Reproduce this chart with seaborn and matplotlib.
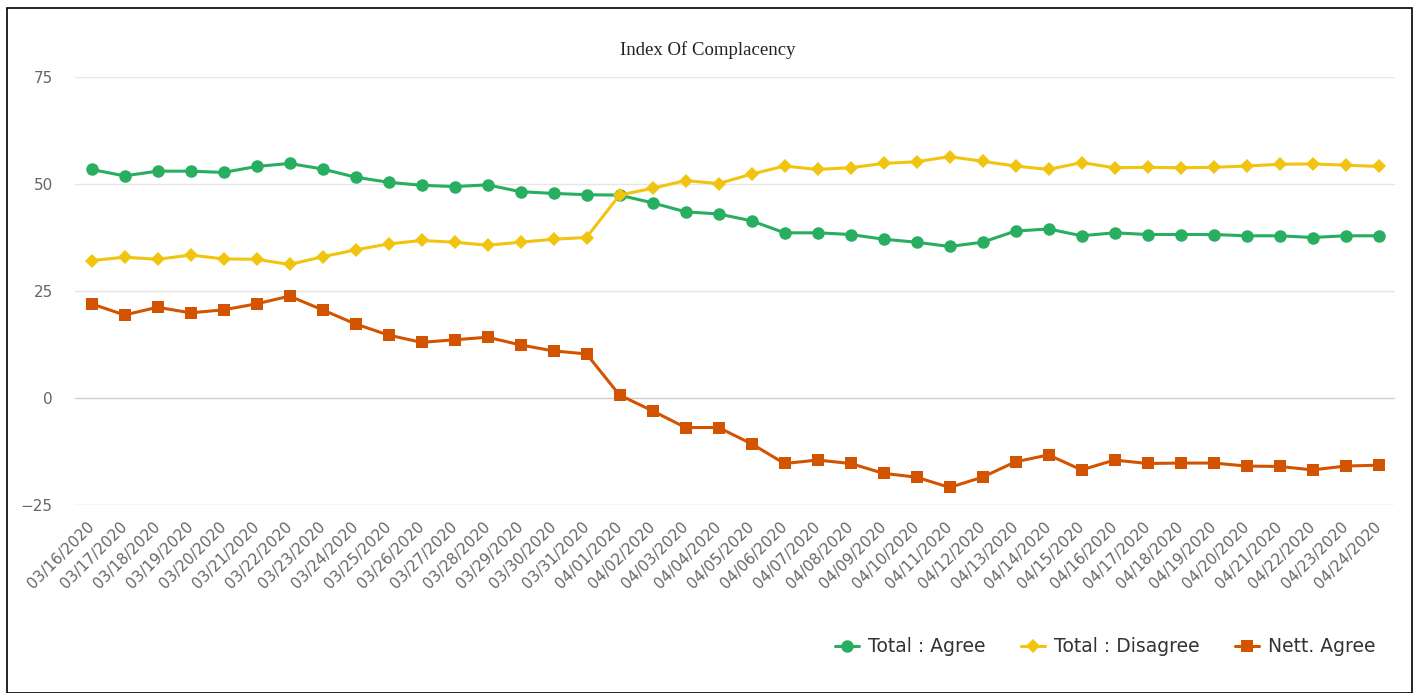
import matplotlib
matplotlib.use("Agg")
import matplotlib.pyplot as plt
import seaborn as sns
import pandas as pd
from matplotlib.patches import Rectangle

dates = ["03/16/2020", "03/17/2020", "03/18/2020", "03/19/2020", "03/20/2020", "03/21/2020",
         "03/22/2020", "03/23/2020", "03/24/2020", "03/25/2020", "03/26/2020", "03/27/2020",
         "03/28/2020", "03/29/2020", "03/30/2020", "03/31/2020", "04/01/2020", "04/02/2020",
         "04/03/2020", "04/04/2020", "04/05/2020", "04/06/2020", "04/07/2020", "04/08/2020",
         "04/09/2020", "04/10/2020", "04/11/2020", "04/12/2020", "04/13/2020", "04/14/2020",
         "04/15/2020", "04/16/2020", "04/17/2020", "04/18/2020", "04/19/2020", "04/20/2020",
         "04/21/2020", "04/22/2020", "04/23/2020", "04/24/2020"]

total_agree = [53.4, 51.9, 53.0, 53.0, 52.7, 54.1, 54.8, 53.5, 51.6, 50.4, 49.7, 49.4,
               49.8, 48.2, 47.8, 47.5, 47.4, 45.6, 43.5, 43.0, 41.4, 38.6, 38.6, 38.2,
               37.1, 36.4, 35.4, 36.4, 39.0, 39.5, 37.9, 38.6, 38.2, 38.2, 38.2, 37.9,
               37.9, 37.5, 37.9, 37.9]

total_disagree = [32.1, 32.9, 32.4, 33.4, 32.5, 32.4, 31.2, 33.0, 34.6, 36.0, 36.8, 36.4,
                  35.7, 36.4, 37.1, 37.5, 47.4, 49.0, 50.8, 50.1, 52.3, 54.2, 53.4, 53.8,
                  54.8, 55.2, 56.4, 55.3, 54.2, 53.4, 55.0, 53.8, 53.9, 53.8, 53.9, 54.2,
                  54.6, 54.7, 54.4, 54.1]

nett_agree = [22.0, 19.4, 21.2, 19.9, 20.6, 22.0, 23.8, 20.6, 17.3, 14.7, 13.0, 13.6,
              14.2, 12.4, 11.0, 10.3, 0.7, -3.0, -6.9, -6.9, -10.7, -15.3, -14.5, -15.3,
              -17.6, -18.5, -20.9, -18.5, -14.9, -13.3, -16.8, -14.5, -15.3, -15.2, -15.2, -15.9,
              -16.0, -16.8, -15.9, -15.7]

series_names = ["Total : Agree", "Total : Disagree", "Nett. Agree"]
colors = ["#27ae60", "#f1c40f", "#d35400"]
markers = ["o", "D", "s"]
msizes = [9, 7, 9]
y_ticks = [-25, 0, 25, 50, 75]

sns.set_style("white")
plt.rcParams['font.family'] = ['DejaVu Sans']

fig = plt.figure(figsize=(14.2, 6.93), dpi=100)
ax = fig.add_axes([75/1420, 1 - 505/693, (1395 - 75)/1420, (505 - 77)/693])

idx = list(range(len(dates)))
for name, vals, c, m, ms in zip(series_names, [total_agree, total_disagree, nett_agree],
                                colors, markers, msizes):
    df = pd.DataFrame({"x": idx, "y": vals})
    sns.lineplot(data=df, x="x", y="y", ax=ax, color=c, marker=m, markersize=ms,
                 markeredgewidth=0, linewidth=2.2, label=name, legend=False)

ax.set_xlim(-0.5, len(dates) - 0.5)
ax.set_ylim(-25, 75)
ax.set_yticks(y_ticks)
ax.set_yticklabels([("\u2212" + str(-t)) if t < 0 else str(t) for t in y_ticks])
ax.set_xticks(idx)
ax.set_xticklabels(dates, rotation=45, ha="right", va="center", rotation_mode="anchor")
ax.tick_params(axis="x", length=0, pad=14, labelsize=11, labelcolor="#666666")
ax.tick_params(axis="y", length=0, pad=16, labelsize=11, labelcolor="#666666")
for lab in ax.get_yticklabels():
    lab.set_horizontalalignment("right")
ax.set_xlabel("")
ax.set_ylabel("")
for s in ax.spines.values():
    s.set_visible(False)
ax.grid(False)
for t in y_ticks:
    col = "#ccd6eb" if t == -25 else ("#cccccc" if t == 0 else "#e6e6e6")
    ax.axhline(t, color=col, linewidth=1, zorder=0)

fig.text(708/1420, 1 - 50/693, "Index Of Complacency", ha="center", va="center",
         fontsize=13.5, family="Liberation Serif", color="#222222")

handles, labels = ax.get_legend_handles_labels()
leg = fig.legend(handles, labels, loc="center right", bbox_to_anchor=(1392/1420, 1 - 647/693),
                 ncol=3, frameon=False, fontsize=13.5, handlelength=1.3, columnspacing=1.9,
                 handletextpad=0.45, labelcolor="#333333")

fig.patches.append(Rectangle((7/1420, 0), (1412 - 7)/1420, 1 - 8/693, transform=fig.transFigure,
                             fill=False, edgecolor="black", linewidth=1.2))

fig.savefig("out.png", dpi=100, facecolor="white")
